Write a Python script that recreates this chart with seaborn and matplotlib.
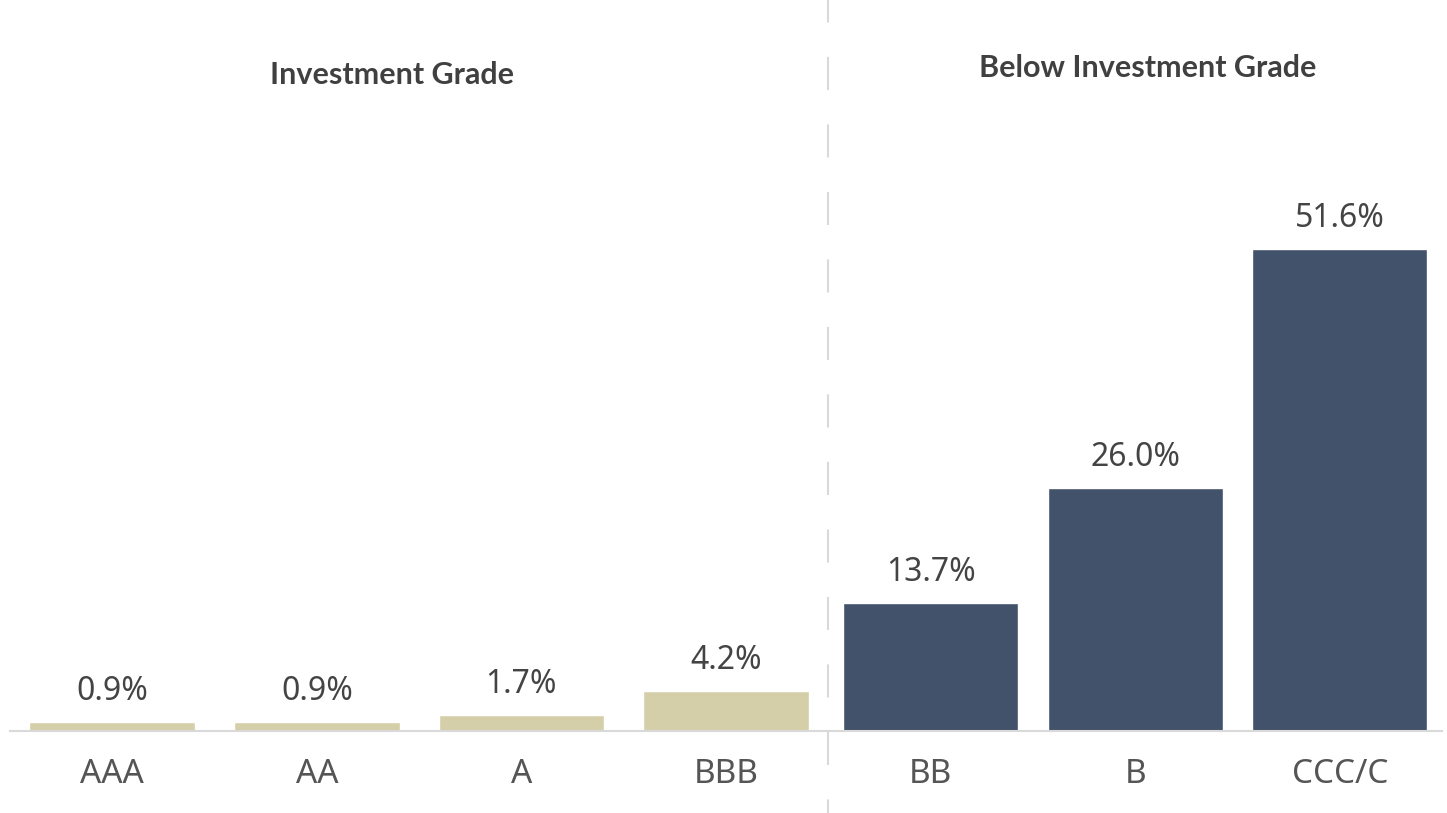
import pandas as pd
import seaborn as sns
import matplotlib.pyplot as plt

# default rates by rating
ratings = ["AAA", "AA", "A", "BBB", "BB", "B", "CCC/C"]
rates = [0.9, 0.9, 1.7, 4.2, 13.7, 26.0, 51.6]
groups = ["Investment Grade"] * 4 + ["Below Investment Grade"] * 3
group_titles = ["Investment Grade", "Below Investment Grade"]

df = pd.DataFrame({"Rating": ratings, "Rate": rates, "Group": groups})

sns.set_theme(style="white")
plt.rcParams['font.family'] = ['Noto Sans', 'DejaVu Sans']
plt.rcParams['lines.scale_dashes'] = False

palette = {"Investment Grade": "#D5CFA9", "Below Investment Grade": "#42526A"}

fig = plt.figure(figsize=(14.47, 8.13), dpi=100)
ax = fig.add_axes([10 / 1447, 82.5 / 813, 1432 / 1447, 730.5 / 813])

sns.barplot(data=df, x="Rating", y="Rate", hue="Group", order=ratings,
            palette=palette, dodge=False, width=0.855, legend=False,
            saturation=1, ax=ax)

# investment grade bars are a bit narrower
for bar in ax.patches:
    if bar.get_facecolor()[0] > 0.6:
        cx = bar.get_x() + bar.get_width() / 2
        bar.set_width(0.81)
        bar.set_x(cx - 0.405)

ax.set_xlim(-0.5, 6.5)
ax.set_ylim(0, 78.3)

# value labels
for i, v in enumerate(rates):
    ax.annotate(f"{v:.1f}%", (i, v), xytext=(0, 10), textcoords="offset points",
                ha="center", va="bottom", fontsize=23, color="#444444")

# group headers
ax.text(1.367, 70.3, group_titles[0], ha="center", va="center", family="Lato",
        fontsize=22, fontweight="bold", color="#404040")
ax.text(5.06, 71.0, group_titles[1], ha="center", va="center", family="Lato",
        fontsize=22, fontweight="bold", color="#404040")

# dashed separator between the groups
ax.plot([3.5, 3.5], [78.3, -8.84], color="#D9D9D9", linewidth=1.5,
        linestyle=(7.6, (23.8, 24.8)), clip_on=False, zorder=0)

ax.set_xlabel("")
ax.set_ylabel("")
ax.set_yticks([])
ax.tick_params(axis="x", length=0, pad=20, labelsize=24, labelcolor="#555555")
for side in ["top", "left", "right"]:
    ax.spines[side].set_visible(False)
ax.spines["bottom"].set_color("#D9D9D9")
ax.spines["bottom"].set_linewidth(1.5)

fig.savefig("out.png", dpi=100)
